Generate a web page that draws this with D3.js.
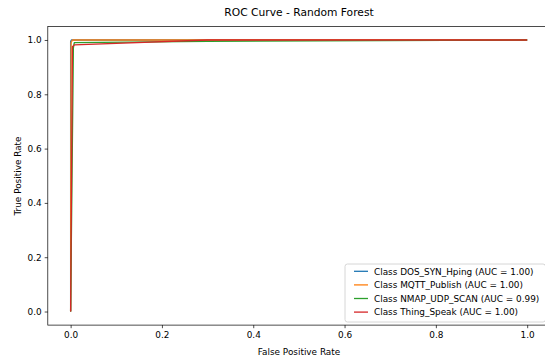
<!DOCTYPE html>
<html>
<head>
<meta charset="utf-8">
<script src="https://cdn.jsdelivr.net/npm/d3@7"></script>
<style>
  body { margin: 0; background: #fff; }
  svg { font-family: "DejaVu Sans", sans-serif; }
</style>
</head>
<body>
<svg id="chart" width="545" height="355"></svg>
<script>
// ROC points
const classNames = ['DOS_SYN_Hping', 'MQTT_Publish', 'NMAP_UDP_SCAN', 'Thing_Speak'];
const aucLabels = ['1.00', '1.00', '0.99', '1.00'];
const colors = ['#1f77b4', '#ff7f0e', '#2ca02c', '#d62728'];
const fprValues = [
  [0, 0, 0.002, 1],
  [0, 0.001, 0.004, 1],
  [0, 0.006, 0.008, 0.3, 1],
  [0, 0.004, 0.008, 0.3, 1]
];
const tprValues = [
  [0, 0.995, 1, 1],
  [0, 0.99, 1, 1],
  [0, 0.97, 0.99, 0.995, 1],
  [0, 0.975, 0.982, 1, 1]
];
const tickValues = [0, 0.2, 0.4, 0.6, 0.8, 1.0];

const svg = d3.select('#chart');

const x = d3.scaleLinear().domain([-0.05, 1.05]).range([47.8, 550]);
const y = d3.scaleLinear().domain([-0.05, 1.05]).range([325.1, 26.4]);

// title
svg.append('text')
  .attr('x', 299)
  .attr('y', 16)
  .attr('text-anchor', 'middle')
  .attr('font-size', '10.7px')
  .attr('fill', '#000')
  .text('ROC Curve - Random Forest');

// axes
const xAxis = svg.append('g')
  .attr('transform', 'translate(0,' + y(-0.05) + ')')
  .call(d3.axisBottom(x).tickValues(tickValues).tickFormat(d3.format('.1f')).tickSize(3.1).tickPadding(3));

const yAxis = svg.append('g')
  .attr('transform', 'translate(' + x(-0.05) + ',0)')
  .call(d3.axisLeft(y).tickValues(tickValues).tickFormat(d3.format('.1f')).tickSize(3.1).tickPadding(3));

[xAxis, yAxis].forEach(a => {
  a.select('.domain').remove();
  a.selectAll('line').attr('stroke', '#000').attr('stroke-width', 0.7);
  a.selectAll('text').attr('font-size', '8.9px').attr('fill', '#000')
    .attr('font-family', '"DejaVu Sans", sans-serif');
});

// curves
const line = d3.line().x(d => x(d[0])).y(d => y(d[1]));

classNames.forEach((name, i) => {
  const pts = fprValues[i].map((f, j) => [f, tprValues[i][j]]);
  svg.append('path')
    .datum(pts)
    .attr('d', line)
    .attr('fill', 'none')
    .attr('stroke', colors[i])
    .attr('stroke-width', 1.3)
    .attr('stroke-linejoin', 'round');
});

// frame
svg.append('rect')
  .attr('x', x(-0.05))
  .attr('y', y(1.05))
  .attr('width', x(1.05) - x(-0.05))
  .attr('height', y(-0.05) - y(1.05))
  .attr('fill', 'none')
  .attr('stroke', '#000')
  .attr('stroke-width', 0.7);

// axis labels
svg.append('text')
  .attr('x', 299)
  .attr('y', 354.5)
  .attr('text-anchor', 'middle')
  .attr('font-size', '8.9px')
  .text('False Positive Rate');

svg.append('text')
  .attr('transform', 'translate(21,176) rotate(-90)')
  .attr('text-anchor', 'middle')
  .attr('font-size', '8.9px')
  .text('True Positive Rate');

// legend
const legend = svg.append('g');
legend.append('rect')
  .attr('x', 345)
  .attr('y', 264)
  .attr('width', 200.5)
  .attr('height', 58)
  .attr('rx', 2.5)
  .attr('fill', '#fff')
  .attr('fill-opacity', 0.8)
  .attr('stroke', '#ccc')
  .attr('stroke-width', 0.8);

classNames.forEach((name, i) => {
  const cy = 271.3 + i * 13.6;
  legend.append('line')
    .attr('x1', 354).attr('x2', 368)
    .attr('y1', cy).attr('y2', cy)
    .attr('stroke', colors[i])
    .attr('stroke-width', 1.3);
  legend.append('text')
    .attr('x', 374)
    .attr('y', cy + 3.2)
    .attr('font-size', '8.9px')
    .attr('fill', '#000')
    .text('Class ' + name + ' (AUC = ' + aucLabels[i] + ')');
});
</script>
</body>
</html>
